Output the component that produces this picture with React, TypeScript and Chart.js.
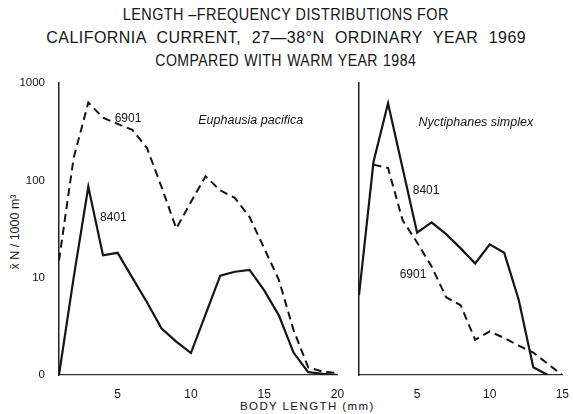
import React, { useEffect, useRef } from 'react';
import { Chart, registerables } from 'chart.js';

Chart.register(...registerables);

// ---- data (y in axis units of the log scale; bottom "0" line = 1) ----
const euphLengths = [1, 2, 3, 4, 5, 6, 7, 8, 9, 10, 11, 12, 13, 14, 15, 16, 17, 18, 19, 20];
const euph1969 = [15, 170, 630, 440, 380, 330, 215, 85, 32, 60, 110, 79, 66, 42, 20, 9.5, 2.9, 1.2, 1.08, 1.05];
const euph1984 = [1, 10, 86, 17, 18, 10, 5.6, 3.0, 2.2, 1.68, 4.2, 10.5, 11.5, 12, 7.4, 4.1, 1.7, 1.07, 1.03, 1.0];

const nyctLengths = [1, 2, 3, 4, 5, 6, 7, 8, 9, 10, 11, 12, 13, 14, 15];
const nyct1984 = [6.6, 155, 620, 134, 29, 37, 28, 20, 14, 22, 18, 5.9, 1.2, 1.0, null];
const nyct1969 = [null, 145, 134, 39, 23, 13, 6.3, 5.2, 2.3, 2.8, 2.4, 2.0, 1.7, 1.3, 1.0];

const yTickValues = [1, 10, 100, 1000];
const yTickLabels = ['0', '10', '100', '1000'];
const euphXTicks = [5, 10, 15, 20];
const nyctXTicks = [5, 10, 15];

const TITLE_LINES = [
  'LENGTH \u2013FREQUENCY DISTRIBUTIONS FOR',
  'CALIFORNIA CURRENT, 27\u201438\u00b0N ORDINARY YEAR 1969',
  'COMPARED WITH WARM YEAR 1984',
];
const TITLE_SCALE = [0.85, 0.94, 0.83];
const TITLE_WORD_SPACING = [0, 6, 1];
const X_TITLE = 'BODY LENGTH (mm)';
const Y_TITLE = 'x\u0304 N / 1000 m\u00b3';

const INK = '#151515';
const FONT = "'Liberation Sans', 'DejaVu Sans', sans-serif";

type Note = { text: string; x: number; y: number; font: string };

const euphNotes: Note[] = [
  { text: '6901', x: 4.8, y: 430, font: `12px ${FONT}` },
  { text: '8401', x: 3.8, y: 41, font: `12px ${FONT}` },
  { text: 'Euphausia pacifica', x: 10.5, y: 410, font: `italic 12.5px ${FONT}` },
];
const nyctNotes: Note[] = [
  { text: '8401', x: 4.7, y: 79, font: `12px ${FONT}` },
  { text: '6901', x: 3.8, y: 10.7, font: `12px ${FONT}` },
  { text: 'Nyctiphanes simplex', x: 5.1, y: 390, font: `italic 12.5px ${FONT}` },
];

function points(xs: number[], ys: (number | null)[]) {
  const out: { x: number; y: number }[] = [];
  xs.forEach((x, i) => {
    const y = ys[i];
    if (y !== null && y !== undefined) out.push({ x, y });
  });
  return out;
}

function notesPlugin(notes: Note[]) {
  return {
    id: 'notes',
    afterDatasetsDraw(chart: any) {
      const { ctx, scales } = chart;
      ctx.save();
      ctx.fillStyle = INK;
      ctx.textAlign = 'left';
      ctx.textBaseline = 'middle';
      notes.forEach((n) => {
        ctx.font = n.font;
        ctx.fillText(n.text, scales.x.getPixelForValue(n.x), scales.y.getPixelForValue(n.y));
      });
      ctx.restore();
    },
  };
}

type PanelOpts = {
  xs: number[];
  solid: (number | null)[];
  dashed: (number | null)[];
  xMax: number;
  xTicks: number[];
  notes: Note[];
  showY: boolean;
  padLeft: number;
  padRight: number;
  yWidth: number;
};

function makeConfig(p: PanelOpts): any {
  return {
    type: 'line',
    data: {
      datasets: [
        {
          label: '1969',
          data: points(p.xs, p.dashed),
          borderColor: INK,
          borderWidth: 2,
          borderDash: [8, 5],
          pointRadius: 0,
          tension: 0,
          fill: false,
        },
        {
          label: '1984',
          data: points(p.xs, p.solid),
          borderColor: INK,
          borderWidth: 2.2,
          pointRadius: 0,
          tension: 0,
          fill: false,
        },
      ],
    },
    options: {
      responsive: false,
      animation: false,
      devicePixelRatio: 1,
      layout: { padding: { left: p.padLeft, right: p.padRight, top: 83, bottom: 0 } },
      plugins: { legend: { display: false }, tooltip: { enabled: false }, title: { display: false } },
      scales: {
        x: {
          type: 'linear',
          min: 1,
          max: p.xMax,
          afterBuildTicks: (s: any) => {
            s.ticks = p.xTicks.map((v) => ({ value: v }));
          },
          afterFit: (s: any) => {
            s.height = 39;
          },
          grid: { display: false },
          border: { display: true, color: '#333', width: 1.2, dash: [7, 4] },
          ticks: {
            color: INK,
            font: { family: FONT, size: 12 },
            padding: 4,
            maxRotation: 0,
            autoSkip: false,
            callback: (v: any) => String(v),
          },
        },
        y: {
          type: 'logarithmic',
          min: 1,
          max: 1000,
          afterBuildTicks: (s: any) => {
            s.ticks = yTickValues.map((v) => ({ value: v }));
          },
          afterFit: (s: any) => {
            s.width = p.yWidth;
          },
          grid: { display: false },
          border: { display: true, color: '#222', width: 1.5 },
          ticks: {
            display: p.showY,
            color: INK,
            font: { family: FONT, size: 11.5 },
            padding: 6,
            autoSkip: false,
            callback: (v: any) => {
              const i = yTickValues.indexOf(Number(v));
              return i >= 0 ? yTickLabels[i] : '';
            },
          },
          title: { display: false },
        },
      },
    },
    plugins: [notesPlugin(p.notes)],
  };
}

export default function App() {
  const leftRef = useRef<HTMLCanvasElement | null>(null);
  const rightRef = useRef<HTMLCanvasElement | null>(null);

  useEffect(() => {
    const charts: Chart[] = [];
    if (leftRef.current) {
      charts.push(
        new Chart(
          leftRef.current,
          makeConfig({
            xs: euphLengths,
            solid: euph1984,
            dashed: euph1969,
            xMax: 20,
            xTicks: euphXTicks,
            notes: euphNotes,
            showY: true,
            padLeft: 0,
            padRight: 573 - 337.5,
            yWidth: 59,
          })
        )
      );
    }
    if (rightRef.current) {
      charts.push(
        new Chart(
          rightRef.current,
          makeConfig({
            xs: nyctLengths,
            solid: nyct1984,
            dashed: nyct1969,
            xMax: 15,
            xTicks: nyctXTicks,
            notes: nyctNotes,
            showY: false,
            padLeft: 359,
            padRight: 573 - 562.5,
            yWidth: 0,
          })
        )
      );
    }
    return () => charts.forEach((c) => c.destroy());
  }, []);

  const canvasStyle: React.CSSProperties = { position: 'absolute', left: 0, top: 0 };

  return (
    <div
      style={{
        position: 'fixed',
        left: 0,
        top: 0,
        width: 573,
        height: 414,
        background: '#fff',
        overflow: 'hidden',
        fontFamily: FONT,
        color: INK,
      }}
    >
      {TITLE_LINES.map((t, i) => (
        <div
          key={i}
          style={{
            position: 'absolute',
            left: 0,
            width: 573,
            top: 5 + i * 23,
            textAlign: 'center',
            fontSize: 17,
            lineHeight: '20px',
            whiteSpace: 'nowrap',
            transform: `scaleX(${TITLE_SCALE[i]})`,
            transformOrigin: '282px 0',
            letterSpacing: '0.5px',
            wordSpacing: `${TITLE_WORD_SPACING[i]}px`,
          }}
        >
          {t}
        </div>
      ))}
      <div
        style={{
          position: 'absolute',
          left: 15 - 60,
          top: 232 - 8,
          width: 120,
          height: 16,
          lineHeight: '16px',
          textAlign: 'center',
          fontSize: 12.5,
          whiteSpace: 'nowrap',
          transform: 'rotate(-90deg)',
          transformOrigin: '60px 8px',
        }}
      >
        {Y_TITLE}
      </div>
      <div
        style={{
          position: 'absolute',
          left: 240,
          width: 145,
          top: 399,
          textAlign: 'left',
          fontSize: 11.5,
          lineHeight: '14px',
          whiteSpace: 'nowrap',
          letterSpacing: '1.4px',
        }}
      >
        {X_TITLE}
      </div>
      <canvas ref={leftRef} width={573} height={414} style={canvasStyle} />
      <canvas ref={rightRef} width={573} height={414} style={canvasStyle} />
    </div>
  );
}
